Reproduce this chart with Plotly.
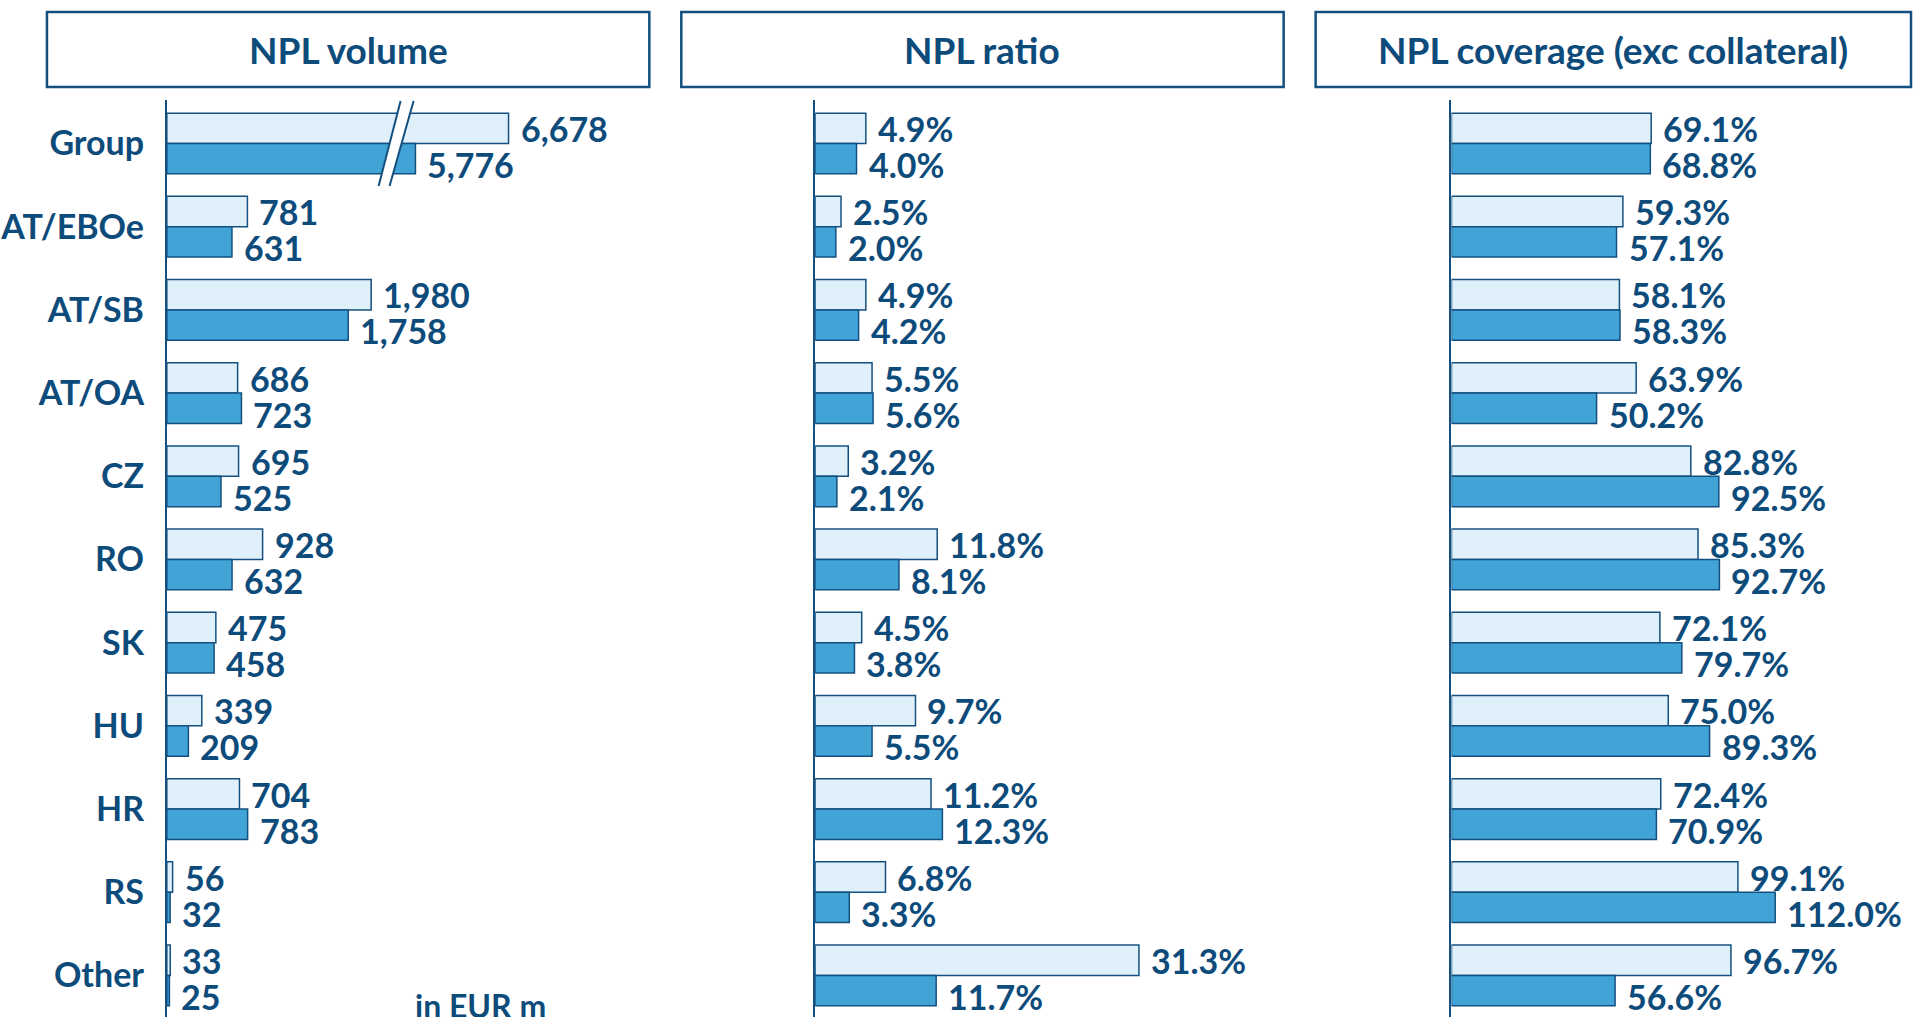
import plotly.graph_objects as go

# ---------------- data ----------------
categories = ["Group", "AT/EBOe", "AT/SB", "AT/OA", "CZ", "RO", "SK", "HU", "HR", "RS", "Other"]

volume_prev = [6678, 781, 1980, 686, 695, 928, 475, 339, 704, 56, 33]
volume_curr = [5776, 631, 1758, 723, 525, 632, 458, 209, 783, 32, 25]

ratio_prev = [4.9, 2.5, 4.9, 5.5, 3.2, 11.8, 4.5, 9.7, 11.2, 6.8, 31.3]
ratio_curr = [4.0, 2.0, 4.2, 5.6, 2.1, 8.1, 3.8, 5.5, 12.3, 3.3, 11.7]

coverage_prev = [69.1, 59.3, 58.1, 63.9, 82.8, 85.3, 72.1, 75.0, 72.4, 99.1, 96.7]
coverage_curr = [68.8, 57.1, 58.3, 50.2, 92.5, 92.7, 79.7, 89.3, 70.9, 112.0, 56.6]

panel_titles = ["NPL volume", "NPL ratio", "NPL coverage (exc collateral)"]
unit_note = "in EUR m"

# axis break applied to the Group volume bars (amount of axis cut out)
GROUP_BREAK = 3367

# ---------------- style ----------------
W, H = 1914, 1017
FONT = "Lato, 'Open Sans', sans-serif"
TXT = "#0D4B7B"
EDGE = "#14507F"
LIGHT = "#E0F0FB"
DARK = "#41A3D6"

def px_x(p):
    return p / W

def px_y(p):
    return 1 - p / H

# x-axis pixel layout: (left px, right px, range max)
panels = [
    (165, 649, 4685),
    (814, 1280, 45),
    (1451, 1885, 150),
]

fig = go.Figure()

def lab_int(v):
    return f"{v:,}"

def lab_pct(v):
    return f"{v:.1f}%"

series = [
    (volume_prev, volume_curr, lab_int),
    (ratio_prev, ratio_curr, lab_pct),
    (coverage_prev, coverage_curr, lab_pct),
]

annotations = []
for i, (prev, curr, fmt) in enumerate(series):
    xa = "x" if i == 0 else f"x{i+1}"
    ya = "y" if i == 0 else f"y{i+1}"
    for vals, color, name, yshift in [(prev, LIGHT, "Previous period", 15),
                                      (curr, DARK, "Current period", -21)]:
        if i == 0:
            xs = [v - GROUP_BREAK if c == "Group" else v for c, v in zip(categories, vals)]
        else:
            xs = list(vals)
        fig.add_trace(go.Bar(
            y=categories, x=xs, orientation="h", name=name,
            xaxis=xa, yaxis=ya,
            marker=dict(color=color, line=dict(color=EDGE, width=1.5)),
            showlegend=False, hoverinfo="skip",
        ))
        for c, xv, v in zip(categories, xs, vals):
            annotations.append(dict(
                xref=xa, yref=ya, x=xv, y=c, text=fmt(v), showarrow=False,
                xanchor="left", yanchor="middle", xshift=10, yshift=yshift,
                font=dict(family=FONT, size=34, color=TXT, weight="bold"),
            ))

layout = dict(
    width=W, height=H,
    margin=dict(l=0, r=0, t=0, b=0),
    paper_bgcolor="white", plot_bgcolor="white",
    barmode="group", bargap=0.27, bargroupgap=0.0,
    font=dict(family=FONT, color=TXT),
)

for i, (l, r, rmax) in enumerate(panels):
    xk = "xaxis" if i == 0 else f"xaxis{i+1}"
    yk = "yaxis" if i == 0 else f"yaxis{i+1}"
    xa = "x" if i == 0 else f"x{i+1}"
    layout[xk] = dict(domain=[px_x(l), px_x(r)], range=[0, rmax], visible=False,
                      anchor="y" if i == 0 else f"y{i+1}")
    layout[yk] = dict(domain=[0, px_y(100)], anchor=xa, autorange="reversed",
                      type="category", showline=True, linecolor=EDGE, linewidth=2,
                      showgrid=False, zeroline=False, ticks="",
                      showticklabels=(i == 0), ticklabelstandoff=14,
                      tickfont=dict(family=FONT, size=34, color=TXT, weight="bold"))

fig.update_layout(**layout)

# title boxes
boxes = [(45, 648), (680, 1283), (1315, 1911)]
for (l, r), title in zip(boxes, panel_titles):
    fig.add_shape(type="rect", xref="paper", yref="paper",
                  x0=px_x(l), x1=px_x(r), y0=px_y(87), y1=px_y(12),
                  line=dict(color=EDGE, width=2.5), fillcolor="white")
    annotations.append(dict(xref="paper", yref="paper", x=px_x((l + r) / 2), y=px_y(50),
                            text=title, showarrow=False, xanchor="center", yanchor="middle",
                            font=dict(family=FONT, size=37, color=TXT, weight="bold")))

# axis break marker on the Group volume bars
bx = [(377, 186), (399, 101), (412, 101), (388, 186)]
path = "M {} {} L {} {} L {} {} L {} {} Z".format(*[v for p in bx for v in (px_x(p[0]), px_y(p[1]))])
fig.add_shape(type="path", xref="paper", yref="paper", path=path,
              fillcolor="white", line=dict(width=0), layer="above")
for (x0, y0), (x1, y1) in [(bx[0], bx[1]), (bx[3], bx[2])]:
    fig.add_shape(type="line", xref="paper", yref="paper",
                  x0=px_x(x0), y0=px_y(y0), x1=px_x(x1), y1=px_y(y1),
                  line=dict(color=EDGE, width=2), layer="above")

# unit note
annotations.append(dict(xref="paper", yref="paper", x=px_x(479), y=px_y(984),
                        text=unit_note, showarrow=False, xanchor="center", yanchor="top",
                        font=dict(family=FONT, size=32, color=TXT, weight="bold")))

fig.update_layout(annotations=annotations)

fig.write_html("out.html", config={"displayModeBar": False},
               post_script="document.body.style.margin='0px';document.body.style.overflow='hidden';")
